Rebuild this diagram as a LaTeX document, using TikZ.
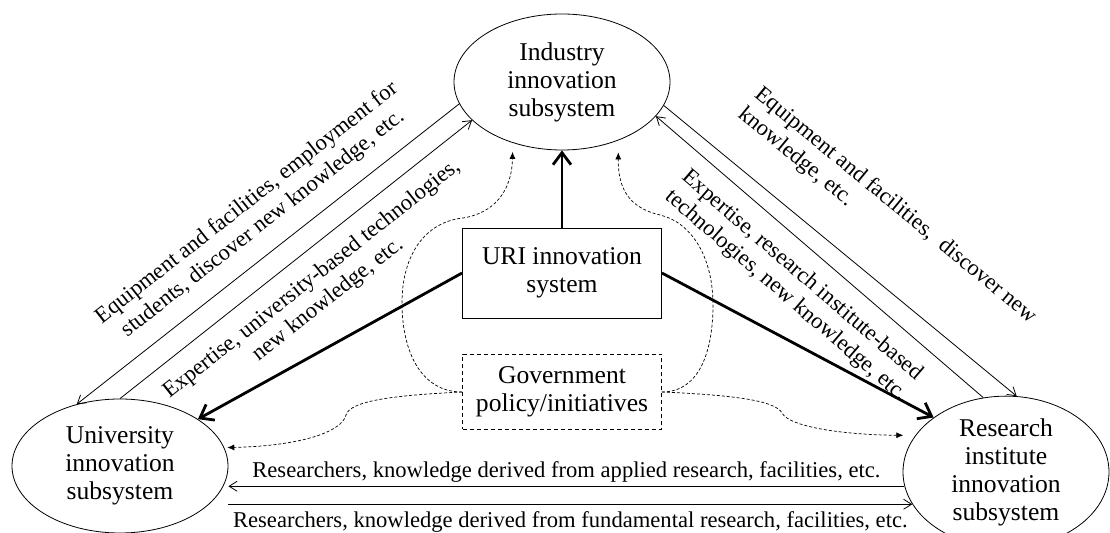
\documentclass[tikz,border=0pt]{standalone}
\usepackage{fontspec}
\setmainfont{Liberation Serif}
\usetikzlibrary{arrows.meta,shapes.geometric,calc}
\tikzset{
  sub/.style={draw, ellipse, inner sep=0pt, align=center, line width=0.4pt,
              font=\fontsize{12.8}{14}\selectfont},
  blk/.style={draw, align=center, inner sep=0pt, minimum width=99.5pt,
              line width=0.4pt, font=\fontsize{12.8}{14}\selectfont},
  flow/.style={-{Straight Barb[length=4pt,width=5pt]}, line width=0.4pt},
  main/.style={-{Straight Barb[length=6pt,width=9pt]}, line width=1.4pt},
  pol/.style={-{Latex[length=3.5pt,width=3pt]}, line width=0.35pt,
              dash pattern=on 1.5pt off 1pt},
  lbl/.style={font=\fontsize{11.3}{13}\selectfont, inner sep=1.5pt, sloped},
}
\begin{document}
\begin{tikzpicture}[x=0.5pt, y=-0.5pt]
  \useasboundingbox (0,0) rectangle (1110,533);
  % subsystems
  \node[sub, minimum width=108pt, minimum height=68pt] (ind) at (562,82)
    {Industry\\innovation\\subsystem};
  \node[sub, minimum width=108pt, minimum height=67pt] (uni) at (120,466)
    {University\\innovation\\subsystem};
  \node[sub, minimum width=103pt, minimum height=75pt] (ri) at (1006,472)
    {Research\\institute\\innovation\\subsystem};
  \node[blk, minimum height=45pt] (uri) at (562,273) {URI innovation\\system};
  \node[blk, minimum height=37.5pt, dash pattern=on 2pt off 1.5pt] (gp) at (562,392)
    {Government\\policy/initiatives};

  % URI system to the three subsystems
  \draw[main] (uri.north) -- (ind.south);
  \draw[main] (uri.west) -- (uni.31);
  \draw[main] (uri.east) -- (ri.143);

  % industry <-> university
  \draw[flow] (ind.192) -- node[lbl, above=6.5pt, pos=0.47, align=center]
    {Equipment and facilities, employment for\\students, discover new knowledge, etc.} (uni.125);
  \draw[flow] (uni.north) -- node[lbl, below=6pt, pos=0.5, align=center]
    {Expertise, university-based technologies,\\new knowledge, etc.} (ind.203);

  % industry <-> research institute
  \draw[flow] (ind.347) -- node[lbl, above=15pt, pos=0.53, align=left]
    {Equipment and facilities,\ \ discover new\\knowledge, etc.} (ri.82);
  \draw[flow] (ri.107) -- node[lbl, below=6pt, pos=0.5, align=left]
    {Expertise, research institute-based\\technologies, new knowledge, etc.} (ind.340);

  % university <-> research institute
  \draw[flow] (ri.188) -- node[lbl, above, midway]
    {Researchers, knowledge derived from applied research, facilities, etc.} (uni.east |- ri.188);
  \draw[flow] (uni.east |- ri.199) -- node[lbl, below=2pt, midway]
    {Researchers, knowledge derived from fundamental research, facilities, etc.} (ri.199);

  % government policy
  \draw[pol, shorten >=4.5pt] (gp.west) .. controls (420,392) and (402,350) .. (402,303)
    .. controls (402,255) and (425,222) .. (463,218)
    .. controls (495,213) and (512,190) .. (ind.231);
  \draw[pol, shorten >=6pt] (gp.east) .. controls (700,392) and (713,350) .. (713,305)
    .. controls (713,255) and (690,222) .. (660,215)
    .. controls (630,208) and (618,190) .. (ind.314);
  \draw[pol, shorten >=1.5pt] (gp.west) .. controls (400,395) and (350,400) .. (346,415)
    .. controls (342,432) and (300,446) .. (uni.10);
  \draw[pol, shorten >=6pt] (gp.east) .. controls (730,395) and (775,400) .. (782,413)
    .. controls (790,428) and (850,435) .. (ri.158);
\end{tikzpicture}
\end{document}
